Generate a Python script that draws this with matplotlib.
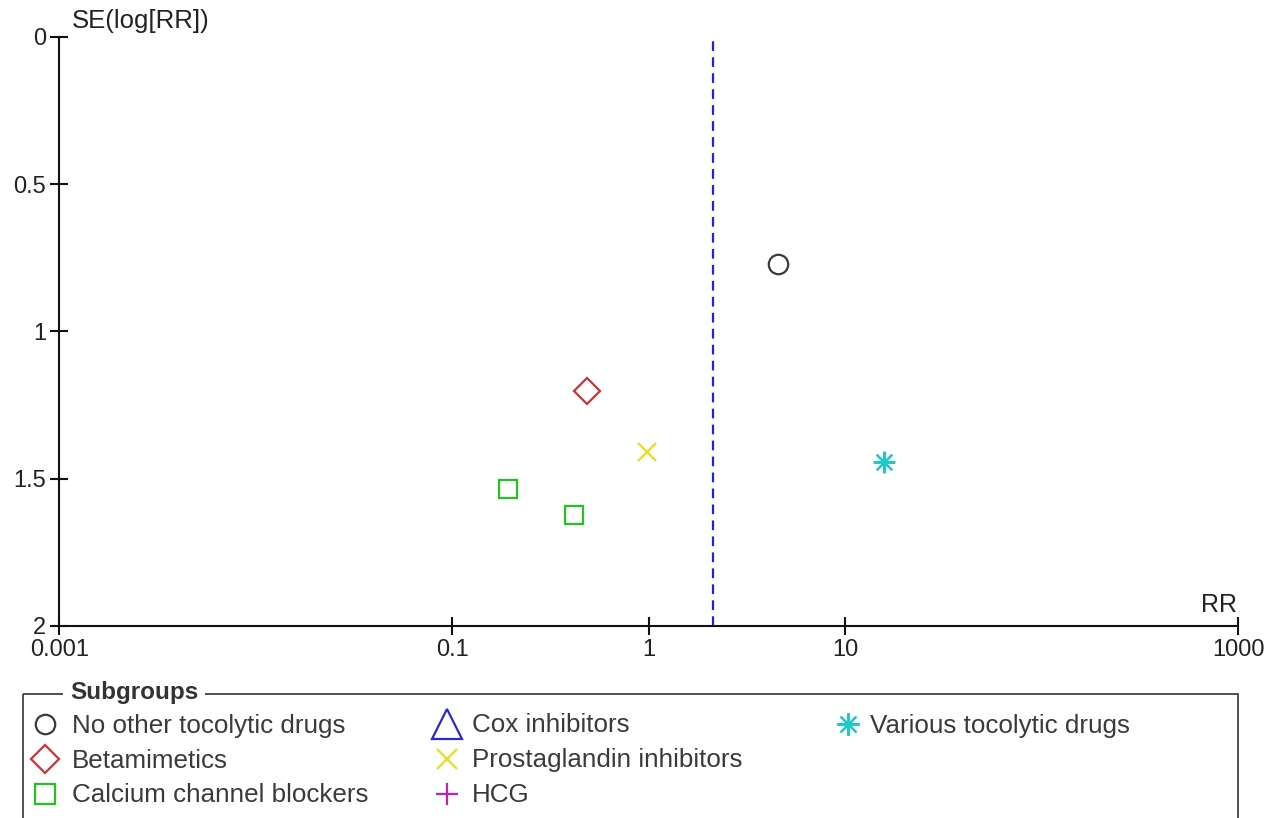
import matplotlib
matplotlib.use("Agg")
import matplotlib.pyplot as plt
from matplotlib.patches import Rectangle

plt.rcParams['font.family'] = ['Liberation Sans', 'DejaVu Sans']
plt.rcParams['lines.scale_dashes'] = False

# Study estimates by subgroup: risk ratio and standard error of log(RR)
subgroups = ["No other tocolytic drugs", "Betamimetics", "Calcium channel blockers",
             "Cox inhibitors", "Prostaglandin inhibitors", "HCG",
             "Various tocolytic drugs"]
rr_values = {
    "No other tocolytic drugs": [4.56],
    "Betamimetics": [0.483],
    "Calcium channel blockers": [0.191, 0.416],
    "Cox inhibitors": [],
    "Prostaglandin inhibitors": [0.976],
    "HCG": [],
    "Various tocolytic drugs": [15.7],
}
se_values = {
    "No other tocolytic drugs": [0.772],
    "Betamimetics": [1.202],
    "Calcium channel blockers": [1.536, 1.623],
    "Cox inhibitors": [],
    "Prostaglandin inhibitors": [1.408],
    "HCG": [],
    "Various tocolytic drugs": [1.442],
}
pooled_rr = 2.13

x_ticks = [0.001, 0.1, 1, 10, 1000]
x_tick_labels = ["0.001", "0.1", "1", "10", "1000"]
y_ticks = [0, 0.5, 1, 1.5, 2]
y_tick_labels = ["0", "0.5", "1", "1.5", "2"]

styles = {
    "No other tocolytic drugs": dict(marker="o", color="#3a3a3a", ms=14, lms=14),
    "Betamimetics": dict(marker="D", color="#cc3333", ms=13.5, lms=14),
    "Calcium channel blockers": dict(marker="s", color="#22c322", ms=13.5, lms=14),
    "Cox inhibitors": dict(marker="^", color="#2a2acc", ms=22, lms=22),
    "Prostaglandin inhibitors": dict(marker="x", color="#e6de1e", ms=13.5, lms=14.5),
    "HCG": dict(marker="+", color="#c020c0", ms=15, lms=16),
    "Various tocolytic drugs": dict(marker=(8, 2, 0), color="#22c8c8", ms=15.5, lms=16),
}

W, H = 1279, 818
fig = plt.figure(figsize=(W / 100, H / 100), dpi=100)
fig.patch.set_facecolor("white")

x0, x1, y0, y1 = 59.3, 1238.4, 36.7, 626.0
ax = fig.add_axes([x0 / W, (H - y1) / H, (x1 - x0) / W, (y1 - y0) / H])
ax.set_xscale("log")
ax.set_xlim(0.001, 1000)
ax.set_ylim(2, 0)

for sp in ("top", "right"):
    ax.spines[sp].set_visible(False)
for sp in ("left", "bottom"):
    ax.spines[sp].set_linewidth(1.5)
    ax.spines[sp].set_color("#111111")

ax.set_xticks(x_ticks)
ax.set_xticklabels(x_tick_labels)
ax.set_yticks(y_ticks)
ax.set_yticklabels(y_tick_labels)
ax.minorticks_off()
ax.tick_params(axis="both", direction="inout", length=13, width=1.5,
               color="#111111", labelsize=17, labelcolor="#222222")
ax.tick_params(axis="x", pad=3)
ax.tick_params(axis="y", pad=3)

ax.axvline(pooled_rr, color="#2222dd", lw=1.6, dashes=(7, 4.5), zorder=1)

for g in subgroups:
    st = styles[g]
    if not rr_values[g]:
        continue
    ax.plot(rr_values[g], se_values[g], linestyle="none", marker=st["marker"],
            ms=st["ms"], mfc="none", mec=st["color"], mew=1.6, clip_on=False,
            zorder=3)

fig.text(72 / W, 1 - 21 / H, "SE(log[RR])", fontsize=18.5, color="#222222",
         ha="left", va="center")
fig.text(1237 / W, 1 - 605 / H, "RR", fontsize=18, color="#222222",
         ha="right", va="center")

# Subgroup key below the plot
lg = fig.add_axes([0, 0, 1, 1], zorder=-1)
lg.set_xlim(0, W)
lg.set_ylim(H, 0)
lg.axis("off")
lg.add_patch(Rectangle((23, 694), 1215, 140, fill=False, ec="#333333", lw=1.2,
                       clip_on=False))
lg.text(70, 693, "Subgroups", fontsize=17.5, fontweight="bold", color="#333333",
        ha="left", va="center",
        bbox=dict(facecolor="white", edgecolor="none", pad=5))

col_marker_x = [45, 447, 848]
col_text_x = [72, 472, 870]
row_y = [724, 759, 794]
layout = [(0, 0), (0, 1), (0, 2), (1, 0), (1, 1), (1, 2), (2, 0)]
for g, (c, r) in zip(subgroups, layout):
    st = styles[g]
    lg.plot([col_marker_x[c]], [row_y[r]], linestyle="none", marker=st["marker"],
            ms=st["lms"], mfc="none", mec=st["color"], mew=1.6, clip_on=False)
    lg.text(col_text_x[c], row_y[r] + 1.5, g, fontsize=18.7, color="#3a3a3a",
            ha="left", va="center")

fig.savefig("out.png", dpi=100, facecolor="white")
